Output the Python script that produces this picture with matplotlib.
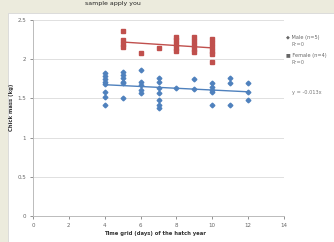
import numpy as np
import matplotlib
matplotlib.use("Agg")
from matplotlib import pyplot as plt
from matplotlib.patches import Rectangle

# male (blue diamonds) - x positions and values
male_x = [4, 4, 4, 4, 4, 4, 4, 4,
          5, 5, 5, 5, 5, 5,
          6, 6, 6, 6, 6,
          7, 7, 7, 7, 7, 7, 7,
          8,
          9, 9,
          10, 10, 10, 10, 10,
          11, 11, 11,
          12, 12, 12]
male_y = [1.82, 1.79, 1.75, 1.71, 1.68, 1.58, 1.52, 1.42,
          1.84, 1.80, 1.76, 1.71, 1.70, 1.51,
          1.86, 1.71, 1.67, 1.61, 1.57,
          1.76, 1.71, 1.63, 1.57, 1.48, 1.42, 1.38,
          1.63,
          1.75, 1.62,
          1.70, 1.65, 1.61, 1.58, 1.42,
          1.76, 1.70, 1.42,
          1.70, 1.58, 1.48]

# female (red squares)
female_x = [5, 5, 5, 5,
            6,
            7,
            8, 8, 8, 8, 8,
            9, 9, 9, 9, 9,
            10, 10, 10, 10, 10, 10]
female_y = [2.36, 2.24, 2.19, 2.16,
            2.08,
            2.14,
            2.28, 2.24, 2.19, 2.14, 2.10,
            2.28, 2.23, 2.18, 2.13, 2.09,
            2.26, 2.21, 2.16, 2.11, 2.06, 1.97]

x_ticks = [0, 2, 4, 6, 8, 10, 12, 14]
y_ticks = [0, 0.5, 1, 1.5, 2, 2.5]
y_tick_labels = ["0", "0.5", "1", "1.5", "2", "2.5"]

blue = "#4F81BD"
red = "#C0504D"

W, H = 334, 242
fig = plt.figure(figsize=(W / 100, H / 100), dpi=100)
fig.patch.set_facecolor("#ECEBDD")

# white chart panel (the rest is page background of the screenshot)
fig.patches.append(Rectangle((8 / W, 0), 1 - 8 / W, 1 - 13 / H,
                             transform=fig.transFigure, facecolor="white",
                             edgecolor="#D8D8D8", lw=0.6, zorder=-5))

# bit of page text at the top
fig.text(85 / W, 1 - 4 / H, "sample apply you", fontsize=4.5,
         color="#222222", va="center", ha="left")

ax = fig.add_axes([33 / W, 26 / H, 251 / W, 196 / H])
ax.set_facecolor("white")
ax.set_zorder(2)

ax.plot(male_x, male_y, "D", color=blue, ms=2.4, mec=blue, zorder=3)
ax.plot(female_x, female_y, "s", color=red, ms=2.9, mec=red, zorder=3)

# linear trend lines
for xs, ys, c in [(male_x, male_y, blue), (female_x, female_y, red)]:
    k, b = np.polyfit(xs, ys, 1)
    xx = np.array([min(xs), max(xs)])
    ax.plot(xx, k * xx + b, color=c, lw=1.0, zorder=2)

ax.set_xlim(0, 14)
ax.set_ylim(0, 2.5)
ax.set_xticks(x_ticks)
ax.set_yticks(y_ticks)
ax.set_yticklabels(y_tick_labels)
ax.grid(axis="y", color="#DADADA", lw=0.6)
ax.set_axisbelow(True)

for s in ["top", "right"]:
    ax.spines[s].set_visible(False)
for s in ["left", "bottom"]:
    ax.spines[s].set_color("#BBBBBB")
    ax.spines[s].set_linewidth(0.7)
ax.tick_params(labelsize=4, colors="#666666", length=2, width=0.5, pad=3)

ax.set_xlabel("Time grid (days) of the hatch year", fontsize=3.8,
              color="#333333", fontweight="bold")
ax.set_ylabel("Chick mass (kg)", fontsize=3.8, color="#333333",
              fontweight="bold")
ax.xaxis.set_label_coords(0.486, -0.077)
ax.yaxis.set_label_coords(-0.076, 0.556)

# legend at the right edge
fig.text(286 / W, 1 - 37 / H, "\u25c6 Male (n=5)", fontsize=3.6,
         color="#666666", va="center")
fig.text(291 / W, 1 - 44 / H, "R\u00b2=0", fontsize=3.6, color="#777777",
         va="center")
fig.text(286 / W, 1 - 55 / H, "\u25a0 Female (n=4)", fontsize=3.6,
         color="#666666", va="center")
fig.text(291 / W, 1 - 62 / H, "R\u00b2=0", fontsize=3.6, color="#777777",
         va="center")
fig.text(292 / W, 1 - 92 / H, "y = -0.013x", fontsize=3.6,
         color="#777777", va="center")

fig.savefig("out.png", dpi=100, facecolor=fig.get_facecolor())
